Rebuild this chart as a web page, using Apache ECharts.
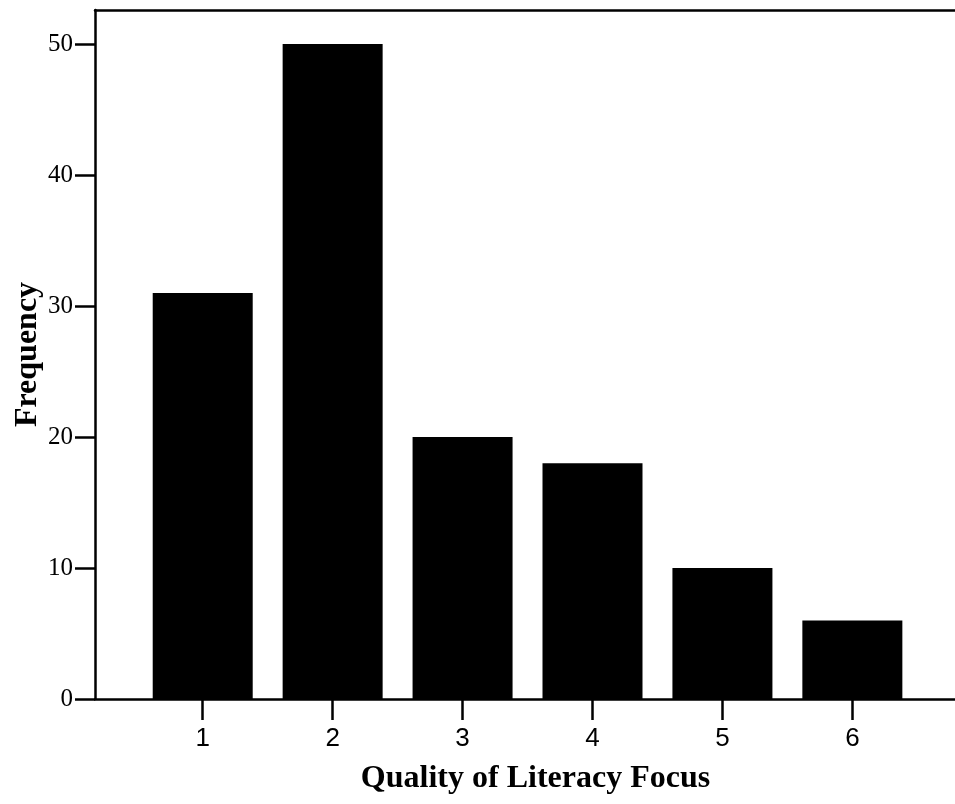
<!DOCTYPE html>
<html>
<head>
<meta charset="utf-8">
<script src="https://cdn.jsdelivr.net/npm/echarts@6/dist/echarts.min.js"></script>
<style>html,body{margin:0;padding:0;background:#fff}#c{width:955px;height:804px}</style>
</head>
<body>
<div id="c"></div>
<script>
const categories = [1, 2, 3, 4, 5, 6];
const frequency = [31, 50, 20, 18, 10, 6];
const yTicks = [0, 10, 20, 30, 40, 50];
const xTitle = 'Quality of Literacy Focus';
const yTitle = 'Frequency';

const chart = echarts.init(document.getElementById('c'), null, {renderer: 'canvas'});
const lineStyle = {color: '#000', width: 2.5};
chart.setOption({
  animation: false,
  backgroundColor: '#fff',
  grid: {left: 95, right: 0, top: 10, bottom: 105, containLabel: false, outerBoundsMode: 'none'},
  xAxis: [{
    type: 'value', min: 0.171, max: 6.79,
    position: 'bottom',
    splitLine: {show: false},
    axisLine: {show: true, onZero: false, lineStyle: lineStyle},
    axisTick: {show: true, length: 21, lineStyle: lineStyle, customValues: categories},
    axisLabel: {customValues: categories, margin: 27, color: '#000', fontFamily: 'Liberation Sans', fontSize: 26},
    name: xTitle, nameLocation: 'middle', nameGap: 64, nameMoveOverlap: false,
    nameTextStyle: {fontFamily: 'Liberation Serif', fontWeight: 'bold', fontSize: 32, color: '#000', padding: [0, 0, 0, 21]}
  }, {
    type: 'value', min: 0.171, max: 6.79, position: 'top',
    splitLine: {show: false},
    axisLine: {show: true, onZero: false, lineStyle: lineStyle},
    axisTick: {show: false}, axisLabel: {show: false}
  }],
  yAxis: {
    type: 'value', min: 0, max: 52.6, interval: 10,
    splitLine: {show: false},
    axisLine: {show: true, lineStyle: lineStyle},
    axisTick: {show: true, length: 20, lineStyle: lineStyle, customValues: yTicks},
    axisLabel: {customValues: yTicks, margin: 22, color: '#000', fontFamily: 'Liberation Serif', fontSize: 25},
    name: yTitle, nameLocation: 'middle', nameGap: 51, nameMoveOverlap: false,
    nameTextStyle: {fontFamily: 'Liberation Serif', fontWeight: 'bold', fontSize: 32, color: '#000'}
  },
  series: [{
    type: 'bar',
    barWidth: 100,
    itemStyle: {color: '#000'},
    data: categories.map((c, i) => [c, frequency[i]])
  }]
});
</script>
</body>
</html>
